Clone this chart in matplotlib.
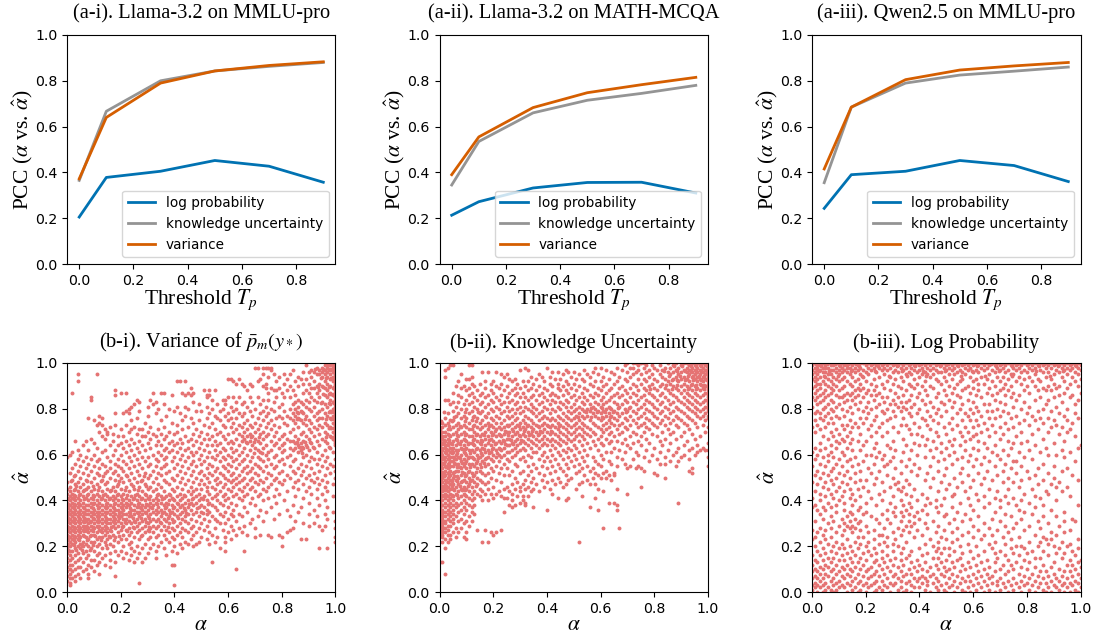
import matplotlib
matplotlib.use("Agg")
from matplotlib import pyplot as plt

plt.rcParams['mathtext.fontset'] = 'stix'

W, H = 1097, 635
SERIF = 'Liberation Serif'
BLUE = '#0072b2'
GRAY = '#949494'
ORANGE = '#d55e00'
RED = '#e57373'

thresholds = [0.0, 0.1, 0.3, 0.5, 0.7, 0.9]

log_prob_i = [0.205, 0.378, 0.405, 0.452, 0.427, 0.357]
knowledge_i = [0.365, 0.667, 0.800, 0.843, 0.863, 0.880]
variance_i = [0.372, 0.640, 0.790, 0.843, 0.867, 0.883]

log_prob_ii = [0.213, 0.272, 0.332, 0.356, 0.357, 0.310]
knowledge_ii = [0.345, 0.535, 0.660, 0.715, 0.745, 0.780]
variance_ii = [0.390, 0.555, 0.683, 0.748, 0.783, 0.815]

log_prob_iii = [0.243, 0.390, 0.405, 0.452, 0.430, 0.360]
knowledge_iii = [0.355, 0.685, 0.790, 0.825, 0.842, 0.860]
variance_iii = [0.415, 0.685, 0.805, 0.847, 0.865, 0.880]

top_titles = ['(a-i). Llama-3.2 on MMLU-pro', '(a-ii). Llama-3.2 on MATH-MCQA', '(a-iii). Qwen2.5 on MMLU-pro']
bottom_titles = [r'(b-i). Variance of $\bar{p}_m(y_*)$', '(b-ii). Knowledge Uncertainty', '(b-iii). Log Probability']

# scatter points, a thinned sample: (alpha_hat %, [alpha %, ...])
variance_rows = [
    (99, [89, 96, 97, 98, 99, 100]), (98, [70, 71, 73, 74, 75, 76, 93, 95, 97, 99, 100]),
    (97, [76, 84, 91, 94, 96, 98, 100]), (96, [88, 90, 92, 95, 97, 99, 100]),
    (95, [4, 11, 73, 77, 81, 83, 93, 94, 96, 98, 100]), (94, [75, 79, 86, 91, 95, 97, 99, 100]),
    (93, [60, 61, 64, 72, 82, 87, 89, 98, 100]), (92, [4, 41, 42, 44, 62, 71, 78, 85, 92, 96, 99, 100]),
    (91, [63, 65, 68, 74, 81, 88, 90, 94, 97, 100]), (90, [66, 69, 73, 83, 86, 93, 95, 98, 100]),
    (89, [46, 74, 76, 79, 91, 92, 96, 99, 100]), (88, [18, 51, 53, 55, 67, 77, 78, 82, 84, 89, 94, 97, 100]),
    (87, [2, 20, 22, 32, 35, 36, 43, 45, 47, 75, 80, 88, 90, 93, 98, 100]),
    (86, [18, 39, 44, 46, 52, 53, 85, 96, 99, 100]), (85, [9, 52, 60, 62, 64, 68, 71, 78, 81, 83, 91, 94, 97, 100]),
    (84, [9, 26, 31, 54, 58, 59, 73, 75, 86, 89, 92, 98, 100]),
    (83, [27, 33, 47, 63, 66, 69, 77, 85, 87, 90, 93, 95, 99, 100]),
    (82, [25, 32, 36, 49, 56, 59, 65, 72, 80, 84, 88, 96, 98, 100]),
    (81, [24, 30, 41, 44, 52, 61, 67, 74, 79, 86, 89, 92, 97, 100]),
    (80, [23, 34, 38, 45, 54, 58, 63, 70, 76, 83, 85, 90, 95, 99, 100]),
    (79, [22, 27, 40, 48, 50, 57, 62, 68, 73, 77, 81, 87, 91, 94, 98, 100]),
    (78, [18, 21, 23, 33, 42, 53, 60, 64, 66, 72, 75, 84, 86, 88, 93, 96, 100]),
    (77, [12, 30, 37, 44, 55, 59, 65, 69, 74, 79, 82, 85, 89, 92, 97, 99, 100]),
    (76, [8, 13, 26, 46, 52, 56, 61, 63, 71, 78, 80, 83, 86, 94, 95, 98, 100]),
    (75, [10, 24, 35, 43, 49, 57, 60, 67, 73, 76, 84, 87, 90, 93, 100]),
    (74, [12, 29, 39, 47, 54, 62, 66, 70, 75, 81, 85, 88, 91, 96, 99, 100]),
    (73, [11, 13, 18, 22, 41, 51, 58, 64, 68, 72, 77, 82, 89, 94, 97, 100]),
    (72, [16, 25, 31, 36, 45, 53, 59, 61, 65, 69, 74, 79, 86, 92, 95, 98, 100]),
    (71, [14, 20, 24, 27, 28, 34, 43, 48, 55, 63, 67, 71, 76, 84, 90, 93, 100]),
    (70, [12, 15, 23, 30, 38, 41, 50, 57, 62, 66, 70, 73, 78, 83, 88, 91, 96, 99, 100]),
    (69, [15, 17, 26, 32, 35, 40, 47, 52, 56, 60, 64, 68, 72, 75, 81, 87, 94, 97, 100]),
    (68, [13, 19, 21, 28, 29, 33, 37, 44, 49, 54, 58, 65, 67, 69, 74, 77, 80, 85, 89, 92, 98, 100]),
    (67, [9, 14, 24, 31, 36, 42, 46, 51, 53, 59, 63, 66, 70, 73, 79, 82, 86, 90, 95, 99, 100]),
    (66, [3, 7, 17, 22, 27, 34, 39, 45, 48, 55, 61, 65, 68, 71, 76, 83, 84, 88, 93, 96, 100]),
    (65, [10, 20, 25, 30, 38, 41, 43, 50, 57, 60, 62, 67, 72, 78, 81, 85, 87, 91, 97, 100]),
    (64, [6, 16, 19, 23, 28, 33, 35, 40, 47, 52, 54, 56, 64, 69, 74, 77, 80, 86, 89, 94, 100]),
    (63, [11, 21, 26, 31, 37, 42, 45, 49, 58, 61, 66, 70, 73, 79, 83, 85, 88, 92, 98]),
    (62, [4, 8, 14, 18, 24, 29, 36, 39, 44, 51, 55, 59, 63, 68, 71, 76, 81, 84, 87, 90, 96]),
    (61, [2, 13, 22, 27, 34, 38, 41, 46, 48, 53, 57, 62, 65, 72, 75, 80, 86, 93, 99]),
    (60, [1, 5, 10, 17, 20, 25, 32, 35, 43, 47, 50, 56, 60, 64, 67, 74, 78, 83, 89, 95]),
    (59, [0, 7, 15, 23, 28, 30, 37, 40, 45, 52, 54, 58, 61, 69, 71, 77, 82, 88, 91, 97]),
    (58, [4, 9, 12, 19, 26, 33, 36, 42, 49, 55, 59, 63, 66, 72, 75, 80, 85, 92, 94, 100]),
    (57, [6, 11, 16, 21, 24, 29, 34, 39, 44, 47, 51, 57, 62, 65, 68, 73, 79, 84, 90, 96]),
    (56, [3, 8, 13, 18, 22, 27, 31, 37, 41, 46, 50, 53, 60, 64, 70, 76, 81, 87, 93, 98]),
    (55, [5, 10, 14, 19, 25, 30, 33, 36, 43, 48, 54, 58, 61, 67, 71, 74, 78, 83, 89, 95, 99]),
    (54, [2, 7, 12, 16, 20, 23, 28, 35, 40, 45, 52, 56, 59, 63, 66, 69, 72, 77, 86, 91, 97]),
    (53, [4, 9, 15, 18, 21, 26, 32, 38, 42, 47, 50, 55, 60, 65, 68, 73, 80, 84, 88, 94, 100]),
    (52, [1, 6, 11, 14, 17, 24, 29, 34, 37, 44, 49, 53, 57, 62, 67, 70, 75, 79, 85, 92, 98]),
    (51, [3, 8, 12, 19, 22, 27, 31, 35, 41, 46, 51, 54, 58, 61, 64, 71, 76, 82, 87, 90, 96]),
    (50, [5, 10, 16, 20, 25, 30, 33, 39, 43, 48, 52, 56, 59, 63, 66, 69, 74, 78, 83, 89, 93, 100]),
    (49, [2, 7, 13, 18, 23, 28, 36, 40, 45, 50, 55, 60, 62, 65, 68, 72, 77, 81, 86, 91, 95]),
    (48, [0, 4, 9, 15, 21, 26, 32, 37, 42, 47, 53, 57, 61, 64, 70, 73, 79, 85, 92, 97]),
    (47, [3, 6, 11, 14, 19, 24, 29, 34, 38, 44, 49, 51, 56, 59, 63, 67, 71, 76, 80, 88, 94, 99]),
    (46, [1, 5, 8, 12, 17, 22, 27, 31, 35, 41, 46, 52, 54, 58, 62, 66, 69, 75, 84, 90, 96]),
    (45, [0, 3, 7, 10, 15, 20, 25, 30, 33, 39, 43, 48, 50, 55, 60, 64, 68, 73, 78, 86, 93]),
    (44, [1, 4, 6, 9, 13, 16, 18, 23, 28, 32, 36, 40, 45, 47, 52, 57, 61, 65, 70, 74, 82, 89, 97]),
    (43, [0, 2, 5, 8, 11, 14, 19, 21, 26, 29, 34, 38, 42, 46, 49, 53, 56, 59, 63, 67, 72, 79, 91, 95]),
    (42, [1, 3, 6, 10, 12, 15, 17, 20, 24, 27, 31, 35, 37, 41, 44, 48, 51, 55, 58, 62, 66, 71, 77, 85, 99]),
    (41, [0, 2, 4, 7, 9, 13, 16, 18, 22, 25, 28, 30, 33, 36, 39, 43, 47, 50, 54, 60, 64, 69, 75, 88, 93]),
    (40, [1, 3, 5, 8, 11, 14, 17, 19, 21, 23, 26, 29, 32, 34, 38, 40, 42, 45, 49, 52, 56, 59, 65, 73, 81, 96]),
    (39, [0, 2, 4, 6, 9, 10, 12, 15, 18, 20, 22, 24, 27, 31, 33, 35, 37, 41, 44, 46, 48, 53, 57, 61, 68, 78, 90]),
    (38, [1, 3, 5, 7, 8, 11, 13, 16, 19, 21, 23, 25, 28, 30, 32, 36, 39, 43, 47, 50, 54, 58, 63, 70, 84, 94]),
    (37, [0, 2, 4, 6, 9, 12, 14, 15, 17, 20, 22, 26, 27, 29, 31, 34, 37, 40, 42, 45, 49, 51, 55, 60, 66, 76, 87, 97]),
    (36, [1, 3, 5, 7, 8, 10, 13, 16, 18, 19, 21, 24, 25, 28, 30, 33, 35, 38, 41, 44, 46, 52, 56, 62, 72, 82, 92]),
    (35, [0, 2, 4, 6, 9, 11, 12, 14, 15, 17, 20, 23, 26, 27, 29, 32, 34, 36, 39, 43, 48, 50, 53, 59, 67, 74, 86, 99]),
    (34, [1, 3, 5, 7, 8, 10, 13, 16, 18, 21, 22, 25, 28, 31, 33, 37, 40, 42, 45, 47, 52, 57, 61, 64, 79, 90, 96]),
    (33, [0, 2, 4, 6, 9, 11, 12, 14, 17, 19, 20, 23, 24, 27, 30, 35, 38, 41, 44, 49, 54, 58, 62, 65, 71, 83, 93]),
    (32, [1, 3, 5, 7, 8, 10, 13, 15, 16, 18, 21, 22, 26, 29, 32, 34, 36, 39, 43, 46, 51, 55, 60, 69, 77, 97]),
    (31, [0, 2, 4, 6, 7, 9, 11, 12, 14, 17, 19, 23, 25, 28, 31, 33, 37, 40, 44, 48, 53, 56, 63, 73, 85, 100]),
    (30, [1, 3, 5, 8, 10, 13, 15, 16, 18, 20, 22, 24, 27, 30, 35, 38, 42, 45, 50, 57, 59, 68, 88, 92]),
    (29, [0, 2, 4, 6, 7, 9, 11, 12, 14, 17, 19, 21, 26, 29, 32, 34, 36, 41, 47, 52, 61, 66, 90, 94, 96]),
    (28, [1, 3, 5, 8, 10, 13, 15, 18, 23, 25, 28, 31, 33, 39, 43, 46, 49, 55, 64, 70, 84, 100]),
    (27, [0, 2, 4, 6, 7, 9, 12, 14, 16, 20, 22, 27, 30, 35, 37, 40, 44, 51, 58, 62, 83, 95]),
    (26, [1, 3, 5, 8, 11, 13, 15, 19, 24, 26, 29, 32, 38, 42, 45, 48, 53, 60, 65, 82]),
    (25, [0, 2, 4, 6, 9, 10, 14, 17, 21, 23, 28, 34, 36, 41, 47, 54, 63, 67, 72, 75, 79]),
    (24, [1, 3, 5, 7, 12, 13, 16, 18, 25, 31, 33, 39, 43, 50, 56, 59, 70, 76, 80, 100]),
    (23, [0, 2, 4, 8, 11, 15, 20, 22, 27, 30, 37, 40, 46, 52, 61, 87, 89]),
    (22, [1, 3, 6, 9, 10, 14, 19, 24, 35, 38, 44, 49, 55, 59, 100]),
    (21, [0, 2, 5, 7, 12, 16, 23, 29, 32, 42, 45, 48, 53]),
    (20, [1, 4, 6, 8, 11, 17, 21, 26, 34, 40, 47, 80]),
    (19, [0, 3, 5, 9, 13, 15, 24, 28, 31, 36, 43, 57, 94, 97]),
    (18, [1, 2, 7, 10, 18, 20, 25, 33, 39, 59, 66]),
    (17, [0, 4, 6, 12, 16, 22, 27, 30, 41]),
    (16, [1, 3, 8, 11, 14, 19, 24, 37]),
    (15, [0, 2, 5, 7, 13, 21, 26, 29, 33]),
    (14, [1, 4, 9, 10, 16, 23]),
    (13, [0, 3, 6, 12, 18, 25, 28, 54]),
    (12, [1, 2, 8, 11, 14, 39, 40]),
    (11, [0, 4, 5, 9, 16]),
    (10, [1, 3, 7, 63]), (9, [0, 2, 6, 10]), (8, [1, 4, 8, 12]), (7, [0, 3, 18]),
    (6, [1, 5, 2, 8]), (5, [0, 3]), (4, [1, 27]), (3, [1, 40]),
    # denser patches, between the rows above
    (97.5, [92.5, 95.5, 97.5, 98.5, 99.5]), (93.5, [94.5, 96.5, 98.5, 99.5]), (89.5, [93.5, 95.5, 97.5, 99.5]),
    (86.5, [95.5, 97.5, 98.5, 99.5]), (82.5, [94.5, 97.5, 99.5]), (78.5, [85.5, 87.5, 97.5, 98.5, 99.5]),
    (75.5, [85.5, 86.5, 88.5, 96.5, 98.5, 99.5]), (71.5, [97.5, 98.5, 99.5]), (67.5, [68.5, 71.5, 96.5, 98.5, 99.5]),
    (65.5, [66.5, 69.5, 85.5, 88.5, 90.5]), (63.5, [86.5, 87.5, 89.5, 91.5, 97.5]), (60.5, [69.5, 72.5, 87.5]),
    (50.5, [2.5, 13.5, 22.5, 28.5]), (48.5, [1.5, 7.5, 12.5, 19.5, 27.5]), (46.5, [3.5, 9.5, 18.5, 24.5, 29.5]),
    (44.5, [2.5, 6.5, 11.5, 16.5, 21.5, 26.5]),
    (42.5, [2.5, 4.5, 7.5, 9.5, 13.5, 18.5, 22.5, 25.5, 29.5, 33.5, 38.5, 43.5]),
    (40.5, [0.5, 2.5, 6.5, 9.5, 12.5, 15.5, 20.5, 24.5, 27.5, 30.5, 35.5, 39.5, 46.5, 50.5]),
    (38.5, [0.5, 2.5, 4.5, 9.5, 14.5, 17.5, 22.5, 26.5, 29.5, 33.5, 37.5, 41.5, 45.5, 52.5]),
    (36.5, [0.5, 2.5, 6.5, 9.5, 11.5, 14.5, 17.5, 20.5, 23.5, 27.5, 31.5, 36.5, 39.5, 43.5, 48.5]),
    (34.5, [0.5, 2.5, 4.5, 6.5, 9.5, 11.5, 14.5, 19.5, 23.5, 26.5, 29.5, 35.5, 38.5, 44.5, 50.5]),
    (32.5, [0.5, 2.5, 4.5, 6.5, 9.5, 11.5, 14.5, 17.5, 19.5, 24.5, 27.5, 30.5, 37.5, 41.5]),
    (30.5, [0.5, 2.5, 4.5, 6.5, 8.5, 11.5, 14.5, 17.5, 21.5, 25.5, 29.5, 34.5, 39.5]),
    (28.5, [0.5, 2.5, 4.5, 6.5, 7.5, 9.5, 11.5, 14.5, 16.5, 20.5, 24.5, 30.5, 37.5]),
    (26.5, [0.5, 2.5, 4.5, 6.5, 7.5, 9.5, 12.5, 16.5, 22.5, 30.5]),
    (24.5, [0.5, 2.5, 4.5, 6.5, 8.5, 10.5, 15.5, 19.5, 27.5]),
    (22.5, [0.5, 2.5, 4.5, 7.5, 12.5, 17.5]), (20.5, [0.5, 2.5, 5.5, 9.5, 14.5]), (18.5, [0.5, 3.5, 5.5, 8.5]),
]

knowledge_rows = [
    (100, [70, 72, 73, 75, 76, 85, 88, 91, 92, 94, 96, 97, 98, 99, 100]),
    (99, [4, 5, 11, 12, 69, 74, 77, 79, 82, 87, 90, 93, 95, 97, 99, 100]),
    (98, [3, 32, 40, 58, 60, 66, 71, 72, 76, 80, 84, 86, 89, 92, 94, 96, 98, 100]),
    (97, [2, 30, 33, 47, 54, 62, 68, 74, 78, 81, 83, 88, 91, 93, 95, 97, 99, 100]),
    (96, [16, 18, 21, 42, 44, 48, 50, 57, 64, 70, 73, 77, 85, 87, 90, 92, 94, 96, 98, 100]),
    (95, [8, 23, 25, 37, 46, 52, 55, 59, 65, 72, 75, 79, 82, 86, 89, 93, 95, 97, 99, 100]),
    (94, [2, 12, 24, 34, 38, 41, 49, 56, 61, 67, 71, 78, 83, 88, 91, 94, 96, 98, 100]),
    (93, [10, 11, 26, 28, 36, 43, 45, 51, 53, 63, 69, 74, 76, 80, 84, 87, 90, 92, 95, 97, 99, 100]),
    (92, [7, 17, 20, 27, 31, 33, 39, 47, 54, 58, 60, 66, 70, 77, 81, 85, 89, 93, 96, 98, 100]),
    (91, [12, 15, 19, 23, 29, 35, 41, 44, 48, 50, 56, 62, 65, 72, 75, 79, 83, 86, 91, 94, 97, 100]),
    (90, [6, 9, 13, 21, 25, 32, 37, 42, 46, 52, 57, 61, 68, 73, 78, 82, 87, 90, 92, 95, 99, 100]),
    (89, [8, 11, 17, 22, 28, 30, 34, 39, 44, 49, 54, 59, 64, 67, 71, 76, 80, 84, 88, 93, 96, 98, 100]),
    (88, [10, 14, 19, 24, 27, 33, 36, 40, 45, 47, 51, 55, 60, 63, 69, 74, 77, 81, 85, 89, 91, 94, 97, 100]),
    (87, [5, 12, 16, 20, 26, 29, 31, 38, 42, 48, 53, 58, 62, 66, 70, 72, 78, 83, 86, 90, 92, 95, 99, 100]),
    (86, [7, 11, 15, 18, 23, 28, 35, 37, 41, 43, 46, 50, 56, 59, 65, 68, 73, 76, 79, 82, 87, 93, 96, 98, 100]),
    (85, [8, 13, 17, 21, 25, 30, 32, 34, 39, 44, 49, 52, 54, 57, 61, 64, 67, 71, 75, 80, 84, 88, 91, 94, 97, 100]),
    (84, [2, 3, 10, 14, 19, 22, 27, 33, 36, 40, 42, 47, 51, 55, 60, 63, 69, 74, 77, 81, 85, 89, 92, 95, 99, 100]),
    (83, [5, 7, 12, 16, 20, 24, 26, 29, 31, 38, 43, 45, 48, 53, 58, 62, 65, 70, 72, 78, 83, 87, 90, 93, 96, 98, 100]),
    (82, [4, 9, 11, 15, 18, 23, 28, 34, 37, 41, 46, 50, 54, 56, 59, 61, 66, 68, 73, 76, 79, 82, 86, 91, 94, 97, 100]),
    (81, [6, 13, 17, 21, 25, 30, 32, 35, 39, 44, 47, 49, 52, 57, 60, 63, 67, 71, 75, 80, 84, 88, 92, 95, 99, 100]),
    (80, [8, 10, 14, 19, 22, 27, 29, 33, 36, 40, 42, 45, 51, 53, 55, 58, 62, 64, 69, 74, 77, 81, 85, 89, 93, 96, 98, 100]),
    (79, [5, 12, 16, 20, 24, 26, 31, 34, 38, 43, 48, 50, 54, 56, 59, 61, 65, 70, 72, 78, 83, 87, 90, 94, 97, 100]),
    (78, [3, 7, 11, 15, 18, 23, 28, 30, 35, 37, 41, 46, 49, 52, 57, 60, 63, 66, 68, 73, 76, 79, 82, 86, 91, 95, 99]),
    (77, [6, 9, 13, 17, 21, 25, 27, 32, 36, 39, 44, 47, 51, 53, 55, 58, 62, 64, 67, 71, 75, 80, 84, 88, 92, 96, 98, 100]),
    (76, [2, 8, 10, 14, 19, 22, 26, 29, 33, 38, 40, 42, 45, 48, 50, 54, 59, 61, 65, 69, 74, 77, 81, 85, 89, 93, 97, 100]),
    (75, [4, 5, 12, 16, 20, 24, 28, 31, 34, 37, 41, 43, 46, 49, 52, 56, 60, 63, 66, 70, 72, 78, 83, 87, 90, 94, 99]),
    (74, [1, 3, 7, 11, 15, 18, 21, 23, 27, 30, 32, 35, 39, 44, 47, 51, 53, 57, 62, 64, 68, 73, 76, 79, 82, 86, 91, 95]),
    (73, [2, 6, 9, 13, 17, 19, 25, 26, 29, 33, 36, 38, 40, 42, 45, 48, 50, 54, 58, 61, 65, 67, 71, 75, 80, 84, 88, 92, 98]),
    (72, [1, 5, 8, 10, 14, 16, 20, 22, 24, 28, 31, 34, 37, 41, 43, 46, 49, 52, 55, 59, 63, 69, 74, 77, 81, 89, 96, 100]),
    (71, [0, 3, 4, 7, 11, 12, 15, 18, 21, 23, 27, 30, 32, 35, 39, 44, 47, 51, 53, 56, 60, 62, 66, 70, 78, 85, 93]),
    (70, [1, 2, 6, 9, 13, 17, 19, 25, 26, 29, 33, 36, 38, 40, 42, 45, 48, 50, 54, 57, 61, 64, 68, 72, 76, 83, 87, 91, 99]),
    (69, [0, 3, 5, 8, 10, 14, 16, 20, 22, 24, 28, 31, 34, 37, 41, 43, 46, 49, 52, 55, 58, 63, 67, 73, 79, 86, 94]),
    (68, [1, 2, 4, 7, 11, 12, 15, 18, 21, 23, 27, 30, 32, 35, 39, 44, 47, 51, 53, 56, 60, 65, 71, 75, 81, 90, 97]),
    (67, [0, 1, 3, 6, 9, 13, 17, 19, 25, 26, 29, 33, 36, 38, 40, 42, 45, 48, 50, 54, 59, 62, 69, 77, 84, 88, 95]),
    (66, [0, 2, 5, 8, 10, 14, 16, 20, 22, 24, 28, 31, 34, 37, 41, 43, 46, 49, 52, 57, 64, 66, 74, 82, 92]),
    (65, [0, 1, 3, 4, 7, 11, 12, 15, 18, 21, 23, 27, 30, 32, 35, 39, 44, 47, 55, 60, 63, 68, 72, 78, 86, 100]),
    (64, [0, 2, 3, 6, 9, 13, 17, 19, 25, 26, 29, 33, 36, 38, 40, 42, 45, 50, 53, 58, 61, 70, 75, 83, 91, 96]),
    (63, [1, 2, 4, 5, 8, 10, 14, 16, 20, 22, 24, 28, 31, 34, 37, 43, 48, 51, 56, 65, 71, 80, 89, 94, 98]),
    (62, [0, 1, 3, 6, 7, 11, 12, 15, 18, 21, 23, 27, 30, 32, 41, 46, 49, 54, 59, 67, 77, 85, 93, 97, 99, 100]),
    (61, [0, 2, 4, 5, 9, 13, 17, 19, 25, 26, 29, 35, 36, 39, 44, 47, 52, 62, 64, 69, 73, 82, 88, 96]),
    (60, [0, 1, 3, 6, 8, 10, 14, 16, 20, 22, 24, 28, 33, 38, 42, 45, 50, 55, 60, 74, 79, 87, 91, 95]),
    (59, [0, 2, 4, 5, 7, 11, 12, 15, 18, 21, 23, 27, 31, 34, 40, 48, 53, 57, 66, 76, 84, 90, 100]),
    (58, [0, 1, 3, 6, 9, 13, 17, 19, 25, 30, 37, 43, 46, 51, 61, 68, 72, 81, 93]),
    (57, [0, 2, 4, 5, 8, 10, 14, 16, 20, 22, 26, 32, 39, 41, 49, 54, 58, 63, 78, 86, 89]),
    (56, [0, 1, 3, 6, 7, 11, 12, 15, 18, 24, 28, 35, 44, 47, 52, 59, 64, 69, 82, 84]),
    (55, [0, 2, 4, 5, 9, 13, 17, 21, 29, 33, 38, 42, 50, 55, 60, 66, 71, 74, 88, 100]),
    (54, [0, 1, 3, 8, 10, 14, 19, 23, 25, 36, 40, 45, 48, 53, 57, 70, 73, 75, 94]),
    (53, [0, 2, 4, 6, 7, 11, 15, 20, 27, 31, 34, 43, 46, 52, 56, 62, 76, 93]),
    (52, [0, 1, 3, 5, 9, 12, 16, 18, 22, 30, 37, 41, 51, 58, 61, 65, 80, 94]),
    (51, [0, 2, 4, 8, 10, 13, 17, 24, 26, 33, 39, 47, 54, 59, 63, 81, 65]),
    (50, [0, 1, 3, 5, 7, 11, 14, 19, 28, 35, 44, 49, 57, 60, 62, 84]),
    (49, [0, 2, 4, 6, 9, 12, 15, 21, 32, 38, 42, 48, 55, 64]),
    (48, [0, 1, 3, 8, 10, 13, 16, 18, 23, 29, 34, 40, 45, 53]),
    (47, [0, 2, 4, 5, 7, 11, 14, 17, 27, 31, 36, 43, 47, 52, 56, 58]),
    (46, [0, 1, 3, 6, 9, 12, 20, 25, 30, 33, 39, 46, 75]),
    (45, [0, 2, 4, 5, 8, 10, 15, 18, 24, 28, 32, 35, 41, 51, 59, 66]),
    (44, [0, 1, 3, 7, 11, 13, 16, 22, 26, 30, 34, 37, 61]),
    (43, [0, 2, 4, 6, 9, 12, 14, 17, 19, 21, 27, 42, 70]),
    (42, [0, 1, 3, 5, 8, 10, 15, 23, 29, 31, 33, 53]),
    (41, [0, 2, 4, 7, 11, 13, 20, 24, 25, 48, 44, 58]),
    (40, [0, 1, 3, 5, 9, 12, 16, 18, 27, 47, 31]),
    (39, [0, 2, 4, 6, 8, 10, 30, 32, 63, 65, 89]),
    (38, [1, 3, 5, 7, 11, 13, 26, 28, 32, 66]),
    (37, [0, 2, 4, 6, 9, 12, 27, 35, 56]),
    (36, [1, 3, 5, 8, 10, 59, 40, 66]),
    (35, [1, 2, 4, 7, 12, 24]),
    (34, [1, 3, 5, 9, 13]),
    (33, [1, 2, 4, 6, 11]),
    (32, [1, 3, 5, 8]),
    (31, [1, 2, 4, 7, 10, 12]),
    (30, [1, 2, 5, 9]),
    (29, [1, 3, 4, 11]),
    (28, [1, 2, 6, 8, 61, 67]),
    (27, [1, 3, 14, 17, 23]),
    (26, [1, 2, 5, 7, 10, 19, 21]),
    (25, [1, 3, 4, 20]),
    (24, [1, 6, 9]),
    (23, [2, 4, 10]),
    (22, [1, 3, 16, 18, 52]),
    (19, [2]), (13, [0, 1]), (8, [2]),
    # denser patches, between the rows above
    (98.5, [87.5, 90.5, 93.5, 95.5, 97.5, 99.5]), (96.5, [83.5, 88.5, 91.5, 93.5, 95.5, 97.5, 99.5]),
    (94.5, [85.5, 89.5, 92.5, 94.5, 96.5, 98.5]), (92.5, [86.5, 88.5, 91.5, 94.5, 97.5, 99.5]),
    (90.5, [84.5, 88.5, 93.5, 95.5, 97.5, 98.5]), (88.5, [78.5, 86.5, 92.5, 95.5, 98.5]),
    (80.5, [56.5, 60.5, 63.5, 66.5, 70.5]), (78.5, [1.5, 9.5, 14.5, 54.5, 58.5, 61.5, 64.5, 69.5]),
    (76.5, [5.5, 12.5, 17.5, 51.5, 56.5, 60.5, 63.5]), (74.5, [0.5, 4.5, 9.5, 13.5]),
    (72.5, [3.5, 7.5, 12.5, 18.5, 25.5, 29.5, 32.5, 36.5, 40.5, 44.5]), (70.5, [20.5, 24.5, 27.5, 31.5, 34.5, 37.5, 41.5]),
    (68.5, [3.5, 6.5, 9.5, 13.5, 16.5, 19.5, 22.5, 25.5, 29.5, 33.5, 36.5]),
    (66.5, [1.5, 3.5, 6.5, 9.5, 12.5, 15.5, 18.5, 23.5, 26.5, 30.5]),
    (64.5, [0.5, 1.5, 4.5, 7.5, 10.5, 12.5, 15.5, 20.5, 24.5, 27.5]),
    (62.5, [0.5, 2.5, 4.5, 8.5, 9.5, 13.5, 16.5, 19.5, 22.5]),
    (60.5, [0.5, 2.5, 4.5, 6.5, 9.5, 11.5, 15.5, 18.5, 21.5]),
    (58.5, [0.5, 1.5, 3.5, 5.5, 7.5, 10.5, 12.5, 14.5, 17.5]),
    (56.5, [0.5, 1.5, 3.5, 5.5, 8.5, 9.5, 13.5, 16.5]),
    (54.5, [0.5, 2.5, 3.5, 6.5, 7.5, 11.5, 15.5]),
    (52.5, [0.5, 1.5, 3.5, 5.5, 8.5, 10.5, 13.5]),
    (50.5, [0.5, 1.5, 3.5, 5.5, 6.5, 9.5, 12.5]),
    (48.5, [0.5, 2.5, 4.5, 6.5, 8.5, 11.5]),
    (46.5, [0.5, 1.5, 2.5, 4.5, 7.5, 10.5, 13.5]),
    (44.5, [0.5, 1.5, 2.5, 5.5, 8.5, 9.5]),
    (42.5, [0.5, 1.5, 2.5, 4.5, 6.5, 9.5]),
]

log_prob_rows = [
    (100, [0, 1, 3, 4, 6, 7, 9, 11, 12, 14, 16, 18, 19, 21, 23, 25, 27, 29, 31, 33, 35, 37, 39, 41, 43, 45, 47, 49, 51, 53, 55, 57, 59, 61, 63, 65, 67, 69, 71, 73, 75, 77, 79, 81, 83, 85, 87, 89, 91, 93, 95, 97, 99]),
    (99, [0, 2, 3, 5, 7, 8, 10, 12, 13, 15, 17, 20, 22, 24, 26, 28, 30, 32, 34, 36, 38, 40, 42, 44, 46, 48, 50, 52, 54, 56, 58, 60, 62, 64, 66, 68, 70, 72, 74, 76, 78, 80, 82, 84, 86, 88, 90, 92, 94, 96, 98, 100]),
    (98, [1, 2, 4, 5, 6, 9, 11, 13, 14, 16, 18, 21, 23, 25, 27, 29, 33, 35, 37, 41, 43, 45, 49, 51, 53, 57, 59, 63, 65, 69, 71, 75, 77, 81, 83, 87, 89, 93, 95, 97, 99]),
    (97, [0, 2, 3, 7, 8, 10, 12, 15, 17, 19, 22, 26, 28, 31, 34, 38, 40, 44, 46, 50, 52, 55, 58, 61, 64, 67, 70, 73, 76, 79, 82, 85, 91, 94, 96, 100]),
    (96, [1, 4, 5, 9, 11, 13, 16, 20, 24, 30, 32, 36, 39, 42, 47, 48, 54, 56, 60, 62, 68, 72, 78, 80, 86, 88, 92, 98]),
    (95, [0, 2, 6, 7, 10, 14, 18, 21, 27, 35, 37, 41, 43, 45, 51, 53, 57, 66, 74, 75, 83, 90, 95, 99]),
    (94, [1, 3, 5, 8, 12, 15, 19, 25, 29, 33, 40, 44, 49, 59, 63, 69, 71, 77, 81, 87, 93, 97]),
    (93, [0, 2, 6, 9, 11, 17, 23, 31, 38, 46, 52, 56, 61, 65, 73, 79, 84, 89, 100]),
    (92, [1, 4, 7, 10, 13, 16, 20, 28, 34, 42, 47, 50, 55, 60, 67, 70, 76, 82, 85, 94, 98]),
    (91, [2, 3, 5, 8, 14, 18, 22, 26, 30, 36, 39, 48, 54, 62, 64, 72, 78, 90, 96]),
    (90, [1, 6, 9, 12, 15, 24, 32, 37, 41, 44, 51, 58, 68, 74, 80, 83, 88, 92, 99]),
    (89, [0, 3, 7, 11, 17, 19, 27, 33, 38, 45, 53, 57, 60, 66, 71, 86, 91, 95]),
    (88, [2, 5, 8, 10, 16, 18, 21, 23, 29, 35, 42, 49, 56, 62, 70, 73, 79, 84, 87, 89]),
    (87, [1, 4, 7, 13, 15, 20, 25, 31, 40, 47, 52, 59, 65, 69, 75, 81, 94, 100]),
    (86, [3, 6, 9, 12, 14, 17, 22, 24, 34, 37, 43, 50, 54, 61, 67, 72, 77, 92, 97]),
    (85, [0, 2, 5, 10, 11, 16, 19, 26, 28, 32, 39, 46, 55, 63, 74, 85, 90, 96]),
    (84, [1, 4, 7, 13, 15, 23, 30, 36, 41, 51, 58, 68, 76, 83, 88, 99]),
    (83, [3, 8, 12, 18, 21, 27, 33, 35, 44, 48, 53, 60, 70, 79, 93]),
    (82, [2, 6, 10, 16, 25, 29, 31, 38, 42, 49, 56, 64, 66, 72, 87, 98]),
    (81, [0, 5, 9, 14, 20, 24, 32, 34, 37, 45, 52, 61, 75, 81, 91]),
    (80, [4, 7, 11, 17, 22, 28, 35, 40, 47, 55, 59, 69, 78, 86, 95]),
    (79, [2, 8, 13, 19, 26, 30, 33, 43, 50, 62, 65, 67, 71, 84, 89]),
    (78, [1, 3, 6, 15, 21, 27, 36, 39, 46, 54, 57, 60, 73, 80, 92, 98]),
    (77, [5, 9, 12, 24, 31, 37, 44, 48, 58, 63, 70, 76, 82, 94]),
    (76, [3, 7, 10, 18, 20, 29, 34, 41, 52, 66, 68, 74, 85, 88, 99]),
    (75, [1, 4, 14, 23, 28, 42, 45, 56, 59, 61, 79, 83, 90, 95]),
    (74, [6, 8, 16, 19, 26, 38, 47, 51, 64, 72, 77, 86, 97]),
    (73, [2, 11, 13, 22, 33, 35, 43, 54, 62, 67, 81, 91]),
    (72, [0, 5, 15, 17, 25, 30, 40, 49, 57, 60, 70, 75, 89, 93]),
    (71, [3, 9, 12, 21, 36, 44, 52, 65, 73, 84, 96]),
    (70, [1, 7, 14, 24, 28, 32, 46, 55, 58, 63, 68, 78, 88, 95]),
    (69, [10, 18, 37, 39, 50, 61, 71, 82, 92]),
    (68, [4, 8, 13, 22, 26, 41, 47, 56, 60, 66, 76, 98]),
    (67, [6, 11, 15, 34, 43, 53, 59, 70, 86]),
    (66, [9, 12, 17, 20, 30, 45, 51, 57, 62, 73, 80, 94]),
    (65, [3, 10, 14, 24, 38, 48, 64, 75, 78, 90]),
    (64, [7, 19, 28, 35, 40, 42, 52, 55, 68, 83, 100]),
    (63, [1, 5, 9, 13, 23, 29, 46, 50, 60, 65, 74, 87, 99]),
    (62, [3, 15, 18, 31, 37, 44, 57, 62, 71, 81, 93]),
    (61, [0, 7, 11, 25, 34, 48, 53, 67, 77, 85, 96]),
    (60, [2, 6, 12, 20, 22, 27, 39, 51, 59, 69, 73, 88, 91]),
    (59, [4, 8, 16, 24, 30, 42, 45, 56, 64, 79, 94]),
    (58, [1, 10, 14, 26, 36, 49, 54, 61, 70, 82]),
    (57, [6, 13, 19, 29, 33, 47, 58, 66, 75, 76, 98]),
    (56, [3, 9, 17, 23, 28, 38, 52, 63, 72, 86]),
    (55, [0, 5, 11, 15, 27, 35, 44, 60, 68, 78, 90]),
    (54, [8, 21, 31, 40, 50, 56, 74, 84, 95]),
    (53, [2, 7, 13, 18, 25, 37, 47, 65, 71, 80, 93]),
    (52, [4, 10, 16, 22, 33, 43, 55, 62, 76, 88]),
    (51, [1, 6, 12, 28, 39, 49, 58, 69, 83, 97]),
    (50, [3, 9, 14, 24, 30, 45, 53, 64, 73, 81, 90]),
    (49, [7, 18, 20, 35, 42, 60, 67, 78, 86, 99]),
    (48, [0, 5, 11, 16, 26, 32, 48, 56, 71, 75, 92]),
    (47, [2, 8, 13, 23, 31, 36, 51, 63, 84, 89]),
    (46, [4, 10, 19, 29, 34, 44, 54, 59, 77, 91, 95]),
    (45, [6, 14, 17, 32, 38, 50, 66, 73, 82]),
    (44, [1, 9, 12, 21, 27, 33, 47, 57, 69, 87, 93]),
    (43, [3, 7, 15, 25, 35, 41, 53, 61, 79, 88]),
    (42, [5, 11, 18, 30, 37, 52, 64, 72, 83, 96]),
    (41, [0, 8, 14, 22, 43, 49, 58, 68, 75, 85]),
    (40, [3, 10, 16, 26, 33, 39, 46, 62, 70, 78, 91]),
    (39, [6, 12, 20, 29, 36, 44, 55, 66, 73, 81]),
    (38, [1, 9, 15, 24, 34, 42, 48, 59, 76, 86, 99]),
    (37, [0, 4, 7, 18, 31, 37, 46, 52, 64, 70, 83]),
    (36, [2, 5, 12, 17, 28, 35, 41, 60, 77, 89]),
    (35, [9, 14, 20, 30, 33, 39, 47, 54, 68, 79, 94]),
    (34, [3, 15, 19, 26, 36, 43, 50, 57, 72, 82]),
    (33, [7, 13, 22, 31, 34, 38, 49, 62, 74, 86, 91]),
    (32, [4, 11, 16, 24, 28, 40, 53, 59, 67, 78, 97]),
    (31, [1, 8, 14, 18, 33, 36, 45, 56, 70, 84, 94, 98]),
    (30, [6, 12, 17, 25, 29, 38, 42, 51, 64, 76, 88]),
    (29, [10, 13, 15, 20, 35, 37, 47, 60, 72, 81, 92]),
    (28, [3, 7, 14, 16, 27, 32, 43, 54, 66, 75, 85]),
    (27, [0, 5, 12, 18, 23, 34, 39, 49, 62, 69, 79, 96]),
    (26, [2, 9, 15, 21, 30, 36, 46, 52, 58, 73, 89, 94]),
    (25, [4, 11, 25, 26, 33, 41, 56, 64, 67, 83, 91]),
    (24, [1, 7, 17, 19, 28, 38, 48, 60, 71, 77, 86]),
    (23, [0, 5, 13, 23, 31, 44, 50, 54, 63, 74, 87, 89, 99]),
    (22, [3, 9, 16, 21, 27, 35, 47, 52, 68, 81, 85, 93]),
    (21, [6, 11, 18, 25, 30, 42, 58, 66, 72, 88, 96]),
    (20, [1, 8, 14, 20, 28, 32, 45, 55, 61, 76, 78, 84, 90, 95]),
    (19, [4, 10, 12, 17, 23, 34, 40, 47, 49, 51, 67, 74, 79, 92, 99]),
    (18, [2, 7, 15, 21, 26, 30, 37, 46, 53, 59, 64, 70, 82, 86, 97]),
    (17, [5, 9, 13, 19, 24, 33, 43, 48, 56, 68, 75, 80, 91, 94]),
    (16, [0, 3, 11, 16, 22, 28, 36, 41, 51, 62, 72, 77, 88, 98]),
    (15, [6, 8, 14, 18, 26, 31, 35, 45, 47, 55, 60, 69, 83, 85, 93]),
    (14, [1, 4, 10, 12, 20, 24, 29, 33, 39, 50, 54, 65, 73, 79, 96, 100]),
    (13, [2, 7, 15, 17, 23, 27, 37, 42, 48, 52, 58, 63, 68, 76, 81, 90, 99]),
    (12, [0, 5, 9, 13, 19, 25, 30, 34, 40, 46, 56, 61, 71, 74, 86, 95, 97]),
    (11, [3, 6, 11, 16, 22, 28, 32, 38, 44, 49, 53, 59, 66, 78, 83, 89, 100]),
    (10, [1, 4, 8, 12, 14, 18, 21, 26, 36, 41, 47, 51, 57, 64, 70, 75, 80, 92, 98]),
    (9, [0, 2, 7, 10, 15, 20, 24, 29, 33, 39, 43, 50, 55, 62, 68, 73, 85, 87, 94, 96]),
    (8, [3, 5, 9, 13, 17, 23, 27, 31, 35, 37, 45, 48, 52, 60, 65, 72, 77, 82, 90, 99]),
    (7, [1, 6, 11, 14, 19, 22, 25, 30, 34, 41, 44, 49, 54, 58, 63, 67, 79, 84, 88, 93, 97]),
    (6, [0, 2, 4, 8, 12, 16, 21, 28, 32, 38, 40, 42, 46, 51, 56, 61, 66, 70, 75, 81, 86, 91, 95, 100]),
    (5, [3, 7, 10, 15, 18, 24, 26, 33, 36, 39, 43, 47, 53, 57, 59, 64, 69, 73, 78, 83, 89, 92, 98]),
    (4, [1, 5, 9, 13, 17, 20, 23, 29, 31, 35, 41, 45, 50, 55, 62, 67, 71, 76, 80, 85, 87, 94, 96, 99]),
    (3, [0, 2, 4, 8, 11, 14, 19, 22, 27, 30, 37, 43, 48, 52, 60, 65, 69, 74, 79, 82, 90, 93, 97]),
    (2, [1, 3, 6, 10, 12, 16, 21, 25, 28, 33, 38, 40, 46, 51, 54, 58, 63, 72, 77, 84, 88, 91, 95, 100]),
    (1, [0, 5, 7, 9, 15, 18, 24, 26, 32, 35, 42, 47, 49, 56, 61, 66, 70, 75, 81, 86, 92, 98]),
    (0, [0, 2, 4, 8, 13, 17, 20, 23, 29, 34, 37, 44, 50, 53, 57, 59, 64, 68, 73, 78, 83, 87, 89, 94, 96, 99]),
    # denser patches, between the rows above
    (99.5, [1.5, 5.5, 8.5, 13.5, 16.5, 22.5, 26.5, 30.5, 36.5, 40.5, 46.5, 50.5, 56.5, 60.5, 66.5, 70.5, 76.5, 80.5, 86.5, 90.5, 96.5]),
    (98.5, [3.5, 10.5, 17.5, 24.5, 31.5, 38.5, 47.5, 54.5, 61.5, 68.5, 74.5, 84.5, 91.5, 98.5]),
    (96.5, [2.5, 6.5, 14.5, 23.5, 33.5, 41.5, 49.5, 59.5, 69.5, 83.5, 93.5]),
    (94.5, [4.5, 9.5, 18.5, 28.5, 35.5, 42.5, 55.5, 64.5, 74.5, 88.5]),
]

scatter_rows = [variance_rows, knowledge_rows, log_prob_rows]

top_lines = [
    (log_prob_i, knowledge_i, variance_i),
    (log_prob_ii, knowledge_ii, variance_ii),
    (log_prob_iii, knowledge_iii, variance_iii),
]

lefts = [67, 439.5, 812]
AX_W = 268.5


def pixel_axes(fig, left, top, bottom):
    return fig.add_axes([left / W, 1 - bottom / H, AX_W / W, (bottom - top) / H])


def draw_top(ax, lines, title):
    log_prob, knowledge, variance = lines
    ax.plot(thresholds, log_prob, color=BLUE, lw=2, label='log probability')
    ax.plot(thresholds, knowledge, color=GRAY, lw=2, label='knowledge uncertainty')
    ax.plot(thresholds, variance, color=ORANGE, lw=2, label='variance')
    ax.set_ylim(0, 1)
    ax.set_xticks([0, 0.2, 0.4, 0.6, 0.8])
    ax.set_yticks([0, 0.2, 0.4, 0.6, 0.8, 1.0])
    ax.tick_params(labelsize=10.2)
    ax.set_xlabel(r'Threshold $T_p$', family=SERIF, fontsize=15.5, labelpad=0)
    ax.set_ylabel(r'PCC ($\alpha$ vs. $\hat{\alpha}$)', family=SERIF, fontsize=15.5, labelpad=0)
    ax.set_title(title, family=SERIF, fontsize=14.7, pad=12)
    ax.legend(loc='lower right', fontsize=9.8)


def draw_bottom(ax, rows, title):
    xs = [x / 100 for y, row in rows for x in row]
    ys = [y / 100 for y, row in rows for x in row]
    ax.scatter(xs, ys, s=8, color=RED, linewidths=0)
    ax.set_xlim(0, 1)
    ax.set_ylim(0, 1)
    ax.set_xticks([0, 0.2, 0.4, 0.6, 0.8, 1.0])
    ax.set_yticks([0, 0.2, 0.4, 0.6, 0.8, 1.0])
    ax.tick_params(labelsize=10.2)
    ax.set_xlabel(r'$\alpha$', family=SERIF, fontsize=15.5, labelpad=0)
    ax.set_ylabel(r'$\hat{\alpha}$', family=SERIF, fontsize=15.5, labelpad=0)
    ax.set_title(title, family=SERIF, fontsize=14.7, pad=11)


fig = plt.figure(figsize=(W / 100, H / 100), dpi=100)
for i in range(3):
    draw_top(pixel_axes(fig, lefts[i], 35, 264), top_lines[i], top_titles[i])
    draw_bottom(pixel_axes(fig, lefts[i], 363, 592), scatter_rows[i], bottom_titles[i])

fig.savefig('out.png', dpi=100)
